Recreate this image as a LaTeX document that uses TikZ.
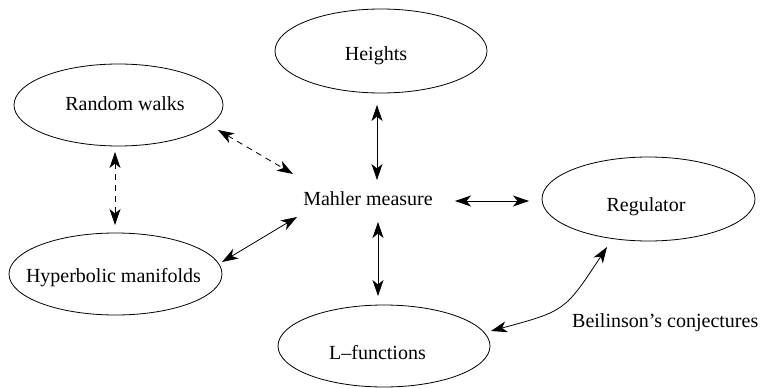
\documentclass[tikz,border=0pt]{standalone}
\usepackage{fontspec}
\setmainfont{Liberation Serif}
\usetikzlibrary{shapes.geometric,arrows.meta}
\tikzset{
  blob/.style={draw, ellipse, inner sep=0pt, line width=0.8pt},
  lbl/.style={font=\fontsize{20}{24}\selectfont, inner sep=0pt, anchor=base},
  arr/.style={line width=0.8pt, {Stealth[length=16pt,width=11pt,inset=4.5pt]}-{Stealth[length=16pt,width=11pt,inset=4.5pt]}},
  dsh/.style={arr, dash pattern=on 6pt off 5pt}
}
\begin{document}
\begin{tikzpicture}[x=1pt,y=-1pt]
\useasboundingbox (0,0) rectangle (761,388);
% ellipses
\node[blob, minimum width=212pt, minimum height=84pt] (H) at (381,51) {};
\node[blob, minimum width=209pt, minimum height=82pt] (RW) at (118.5,105) {};
\node[blob, minimum width=213pt, minimum height=82pt] (HM) at (115.5,274) {};
\node[blob, minimum width=213pt, minimum height=84pt] (R) at (648.5,199) {};
\node[blob, minimum width=212pt, minimum height=82pt] (LF) at (384,346) {};
% texts
\node[lbl] (Ht) at (376,60) {Heights};
\node[lbl] (RWt) at (125,110) {Random walks};
\node[lbl] (HMt) at (113.5,282) {Hyperbolic manifolds};
\node[lbl] (Rt) at (646,211.5) {Regulator};
\node[lbl] (LFt) at (377.5,359) {L--functions};
\node[lbl] (M) at (368,205.7) {Mahler measure};
\node[lbl, anchor=base west] (B) at (572,327) {Beilinson's conjectures};
% connectors
\draw[arr] ([shift={(-4,54)}]H.center) -- ([shift={(9,-25.7)}]M.base);
\draw[arr] ([shift={(87,-4.7)}]M.base) -- ([shift={(-119.5,2)}]R.center);
\draw[arr] ([shift={(10,16.3)}]M.base) -- ([shift={(-6,-50)}]LF.center);
\draw[dsh] ([shift={(99.5,25)}]RW.center) -- ([shift={(-75,-31.7)}]M.base);
\draw[arr] ([shift={(106.5,-12)}]HM.center) -- ([shift={(-71,11.3)}]M.base);
\draw[dsh] ([shift={(-3.5,47)}]RW.center) -- ([shift={(-0.5,-49)}]HM.center);
\draw[arr] ([shift={(-41.5,48)}]R.center) .. controls ([shift={(-83.5,112)}]R.center) .. ([shift={(107,-15)}]LF.center);
\end{tikzpicture}
\end{document}
